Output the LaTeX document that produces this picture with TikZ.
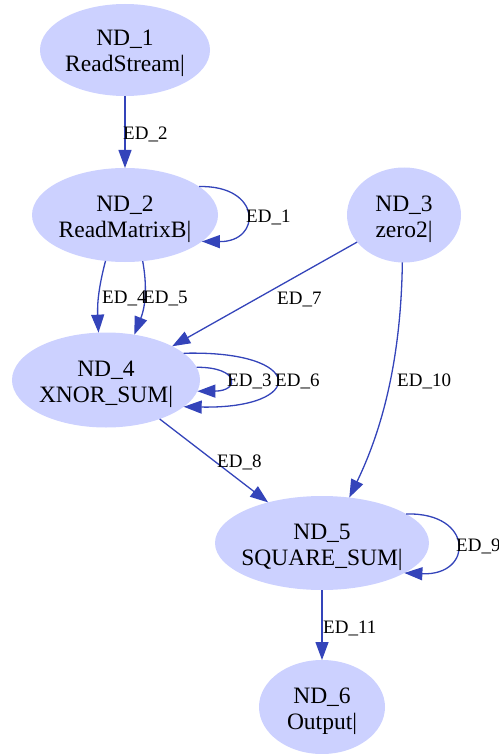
\documentclass[tikz,border=0pt]{standalone}
\usepackage{fontspec}
\setmainfont{Liberation Serif}
\newfontfamily\labelfont{Liberation Serif}
\usetikzlibrary{arrows.meta,shapes.geometric}
\definecolor{nodefill}{RGB}{204,209,255}
\definecolor{edgeblue}{RGB}{52,68,186}
% two-line node text of zero width, so the ellipse keeps its given size;
% fixed top strut, second line without height/depth
\newcommand{\twoline}[2]{\rule{0pt}{18pt}\makebox[0pt]{#1}\\\smash{\makebox[0pt]{#2}}}

\begin{document}
\begin{tikzpicture}[x=1pt,y=-1pt,
  proc/.style={ellipse, fill=nodefill, draw=none, inner sep=0pt, outer sep=0pt,
    align=center, font=\labelfont\fontsize{23.5}{26}\selectfont},
  link/.style={draw=edgeblue, line width=1.3pt,
    -{Triangle[length=18pt,width=13pt]}},
  elabel/.style={anchor=base west, inner sep=0pt, font=\labelfont\fontsize{19}{22}\selectfont}]

\useasboundingbox (0,0) rectangle (498,754);

% nodes
\node[proc, minimum width=170pt, minimum height=92pt] (n1) at (125,50)  {\twoline{ND\_1}{ReadStream|}};
\node[proc, minimum width=186pt, minimum height=94pt] (n2) at (125,215) {\twoline{ND\_2}{ReadMatrixB|}};
\node[proc, minimum width=114pt, minimum height=95pt] (n3) at (404,215) {\twoline{ND\_3}{zero2|}};
\node[proc, minimum width=188pt, minimum height=95pt] (n4) at (106,380) {\twoline{ND\_4}{XNOR\_SUM|}};
\node[proc, minimum width=214pt, minimum height=94pt] (n5) at (322,543) {\twoline{ND\_5}{SQUARE\_SUM|}};
\node[proc, minimum width=126pt, minimum height=94pt] (n6) at (322,707) {\twoline{ND\_6}{Output|}};

% connectors
\draw[link] (n1.south) -- (n2.north);
\draw[link] (n2.21) .. controls (262,185) and (262,242) .. (n2.-19);
\draw[link] (n2.-113) .. controls (100,282) and (97,300) .. (n4.99);
\draw[link] (n2.-69) .. controls (147,285) and (146,305) .. (n4.58);
\draw[link] (n3.210) -- (n4.27);
\draw[link] (n4.8) .. controls (240,367) and (240,391) .. (n4.-7);
\draw[link] (n4.19.5) .. controls (307,350) and (307,409) .. (n4.-19);
\draw[link] (n3.-92) .. controls (401,360) and (382,430) .. (n5.59);
\draw[link] (n4.-36.5) -- (n5.143);
\draw[link] (n5.19) .. controls (474,512) and (474,576) .. (n5.-20);
\draw[link] (n5.south) -- (n6.north);

% connector labels
\node[elabel] (l2)  at (123,140) {ED\_2};
\node[elabel] (l1)  at (246,222) {ED\_1};
\node[elabel] (l4)  at (102,303) {ED\_4};
\node[elabel] (l5)  at (143,303) {ED\_5};
\node[elabel] (l7)  at (277,304) {ED\_7};
\node[elabel] (l3)  at (227,386) {ED\_3};
\node[elabel] (l6)  at (275,386) {ED\_6};
\node[elabel] (l10) at (397,386) {ED\_10};
\node[elabel] (l8)  at (217,467) {ED\_8};
\node[elabel] (l9)  at (456,551) {ED\_9};
\node[elabel] (l11) at (323,633) {ED\_11};
\end{tikzpicture}
\end{document}
